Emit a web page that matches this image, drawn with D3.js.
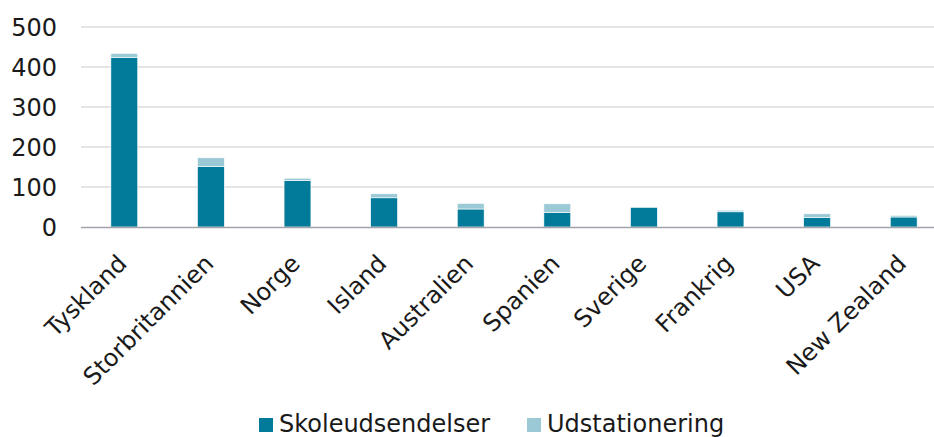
<!DOCTYPE html>
<html lang="da">
<head>
    <meta charset="UTF-8">
    <title>Skoleudsendelser og udstationering</title>
    <script src="https://d3js.org/d3.v7.min.js"></script>
    <style>
        body {
            margin: 0;
            background: #fff;
        }
        svg text {
            font-family: "DejaVu Sans", Verdana, sans-serif;
            font-size: 24px;
            fill: #1a1a1a;
        }
    </style>
</head>
<body>
    <svg width="934" height="437"></svg>

    <script>
        // Chart data
        let countries = ["Tyskland", "Storbritannien", "Norge", "Island", "Australien",
                         "Spanien", "Sverige", "Frankrig", "USA", "New Zealand"];
        let skoleudsendelser = [424, 151, 116, 73, 45, 36, 49, 38, 24, 25];
        let udstationering   = [10, 22, 6, 10, 14, 22, 0, 4, 9, 4];
        let seriesNames = ["Skoleudsendelser", "Udstationering"];
        let yTicks = [0, 100, 200, 300, 400, 500];

        let width = 934, height = 437;
        let margin = { top: 27, bottom: 210, right: -13, left: 81 };

        let svg = d3.select("svg");

        let xscale = d3.scaleBand()
            .domain(countries)
            .range([margin.left, width - margin.right])
            .paddingInner(0.69)
            .paddingOuter(0.345);

        let yscale = d3.scaleLinear()
            .domain([0, 500])
            .range([height - margin.bottom, margin.top]);

        let colors = d3.scaleOrdinal()
            .domain(seriesNames)
            .range(["#017b99", "#9bcad6"]);

        // Gridlines
        svg.append("g")
            .selectAll("line")
            .data(yTicks.slice(1))
            .join("line")
            .attr("x1", margin.left)
            .attr("x2", width)
            .attr("y1", d => yscale(d))
            .attr("y2", d => yscale(d))
            .attr("stroke", "#dcdcdc")
            .attr("stroke-width", 1.3);

        // Stack the two series
        let rows = countries.map((c, i) => ({
            country: c,
            Skoleudsendelser: skoleudsendelser[i],
            Udstationering: udstationering[i]
        }));
        let stacked = d3.stack().keys(seriesNames)(rows);

        svg.append("g")
            .selectAll("g")
            .data(stacked)
            .join("g")
            .attr("fill", d => colors(d.key))
            .selectAll("rect")
            .data(d => d.filter(p => p[1] > p[0]))
            .join("rect")
            .attr("x", d => xscale(d.data.country))
            .attr("y", d => yscale(d[1]))
            .attr("width", xscale.bandwidth())
            .attr("height", d => yscale(d[0]) - yscale(d[1]))
            .attr("stroke", "#ffffff")
            .attr("stroke-width", 0.6);

        // Y axis
        let yAxis = svg.append("g")
            .attr("transform", `translate(${margin.left - 24}, 0)`)
            .call(d3.axisLeft(yscale).tickValues(yTicks).tickSize(0).tickPadding(0));
        yAxis.select(".domain").remove();
        yAxis.selectAll(".tick text").attr("dy", "0.36em");

        // X axis baseline
        svg.append("line")
            .attr("x1", margin.left)
            .attr("x2", width)
            .attr("y1", yscale(0) + 0.5)
            .attr("y2", yscale(0) + 0.5)
            .attr("stroke", "#a3a3ab")
            .attr("stroke-width", 1.5);

        // X axis labels
        let xAxis = svg.append("g")
            .attr("transform", `translate(0, ${yscale(0)})`)
            .call(d3.axisBottom(xscale).tickSize(0).tickPadding(0));
        xAxis.select(".domain").remove();
        xAxis.selectAll(".tick text")
            .attr("text-anchor", "end")
            .attr("dy", null)
            .attr("transform", "translate(4, 38) rotate(-45)");

        // Legend
        let legendX = [259, 527];
        let legend = svg.append("g").attr("class", "legend")
            .selectAll("g")
            .data(seriesNames)
            .join("g")
            .attr("transform", (d, i) => `translate(${legendX[i]}, 418)`);
        legend.append("rect")
            .attr("width", 14)
            .attr("height", 14)
            .attr("fill", d => colors(d));
        legend.append("text")
            .attr("x", 20)
            .attr("y", 14)
            .text(d => d);
    </script>
</body>
</html>
